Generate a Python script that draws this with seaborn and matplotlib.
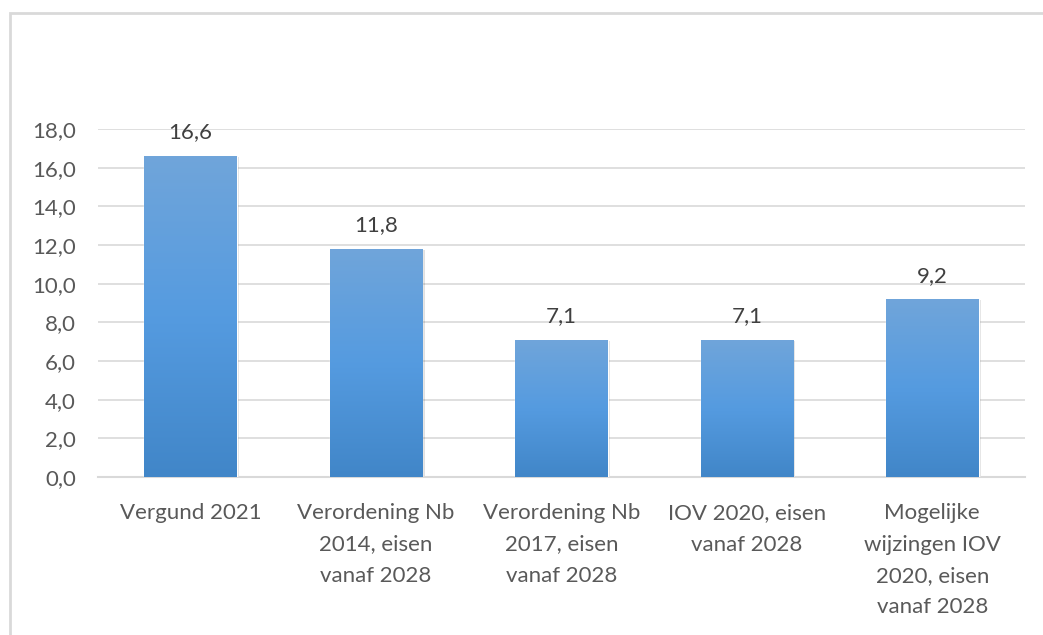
import numpy as np
import pandas as pd
import matplotlib
matplotlib.use("Agg")
import matplotlib.pyplot as plt
import seaborn as sns
from matplotlib.patches import Rectangle
from matplotlib.colors import LinearSegmentedColormap

categories = ["Vergund 2021",
              "Verordening Nb\n2014, eisen\nvanaf 2028",
              "Verordening Nb\n2017, eisen\nvanaf 2028",
              "IOV 2020, eisen\nvanaf 2028",
              "Mogelijke\nwijzingen IOV\n2020, eisen\nvanaf 2028"]
values = [16.6, 11.8, 7.1, 7.1, 9.2]
yticks = [0, 2, 4, 6, 8, 10, 12, 14, 16, 18]

sns.set_theme(style="white")
plt.rcParams['font.family'] = ['Lato', 'DejaVu Sans']

fig = plt.figure(figsize=(10.43, 6.35), dpi=100)
ax = fig.add_axes([98/1043, 1-477/635, (1025-98)/1043, (477-129)/635])

df = pd.DataFrame({"cat": categories, "val": values})
sns.barplot(data=df, x="cat", y="val", ax=ax, width=0.5, color="#5b9bd5",
            saturation=1, zorder=3)

ax.set_ylim(0, 18)
ax.set_xlim(-0.5, len(categories)-0.5)
ax.set_yticks(yticks)
ax.set_yticklabels([f"{t:.1f}".replace(".", ",") for t in yticks])
ax.yaxis.grid(True, color="#d9d9d9", linewidth=1.2, zorder=0)
ax.set_axisbelow(True)
for s in ["left", "right", "top"]:
    ax.spines[s].set_visible(False)
ax.spines["bottom"].set_color("#d9d9d9")
ax.spines["bottom"].set_linewidth(1.5)
ax.set_xlabel("")
ax.set_ylabel("")
ax.tick_params(axis="both", length=0, labelsize=16, colors="#595959")
ax.tick_params(axis="y", pad=16)
ax.tick_params(axis="x", pad=19)
for lbl in ax.get_xticklabels():
    lbl.set_linespacing(1.7)

cmap = LinearSegmentedColormap.from_list("g", ["#4186c8", "#559be0", "#70a5da"])
grad = np.linspace(0, 1, 256).reshape(-1, 1)
for p in list(ax.patches):
    x0, y0 = p.get_x(), p.get_y()
    w, h = p.get_width(), p.get_height()
    sh = Rectangle((x0 + 0.012, y0), w, h - 0.05, facecolor="#000000", alpha=0.12,
                   edgecolor="none", zorder=2)
    ax.add_patch(sh)
    im = ax.imshow(grad, extent=[x0, x0 + w, y0, y0 + h], origin="lower",
                   cmap=cmap, aspect="auto", zorder=3.5)
    im.set_clip_path(p)
    ax.text(x0 + w/2, y0 + h + 0.7, f"{h:.1f}".replace(".", ","),
            ha="center", va="bottom", fontsize=16, color="#404040", zorder=5)

fig.patches.append(Rectangle((10/1043, -0.1), 1.2, 1 - 13/635 + 0.1,
                             transform=fig.transFigure, fill=False,
                             edgecolor="#d9d9d9", linewidth=2, figure=fig))

fig.savefig("out.png", dpi=100)
